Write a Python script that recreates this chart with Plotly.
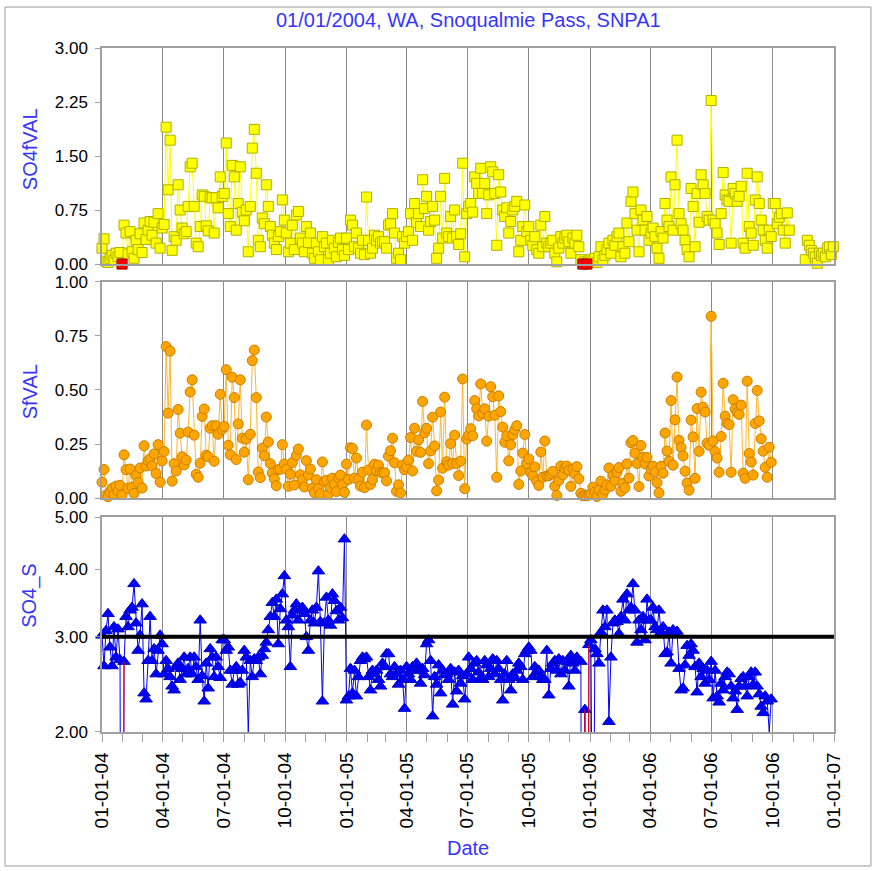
import pandas as pd
import plotly.graph_objects as go

# IMPROVE 1-in-3 day sampling schedule, Snoqualmie Pass (SNPA1)
START = "2004-01-01"
END = "2007-01-01"
sample_dates = pd.date_range(START, periods=366, freq="3D")

# Fine sulfate (ug/m3), one line per calendar quarter
so4f_val = [
    0.22, 0.35, 0.04, 0.02, 0.08, 0.12, 0.05, 0.15, 0.10, 0.16, 0.00, 0.54, 0.43, 0.14, 0.45, 0.17, 0.08, 0.33, 0.20, 0.42, 0.16, 0.57, 0.34, 0.47, 0.59, 0.40, 0.58, 0.29, 0.70, 0.22, 0.50,
    0.55, 1.90, 1.03, 1.72, 0.19, 0.38, 0.33, 1.10, 0.75, 0.50, 0.42, 0.45, 0.80, 1.35, 1.40, 0.80, 0.29, 0.24, 0.52, 0.96, 0.94, 0.53, 0.46, 0.92, 0.92, 0.43, 0.92, 0.78, 1.21, 0.94,
    0.98, 1.68, 0.70, 0.52, 1.37, 1.21, 0.47, 0.84, 1.35, 0.72, 0.60, 0.75, 0.17, 0.80, 1.61, 1.87, 1.26, 0.33, 0.24, 0.64, 0.56, 1.10, 0.80, 0.52, 0.40, 0.29, 0.20, 0.38, 0.45, 0.89, 0.61,
    0.43, 0.17, 0.29, 0.54, 0.20, 0.68, 0.73, 0.36, 0.29, 0.17, 0.52, 0.30, 0.43, 0.15, 0.08, 0.29, 0.17, 0.06, 0.38, 0.24, 0.29, 0.06, 0.15, 0.33, 0.22, 0.10, 0.30, 0.36, 0.20, 0.12,
    0.36, 0.20, 0.61, 0.54, 0.24, 0.43, 0.22, 0.15, 0.33, 0.13, 0.93, 0.33, 0.15, 0.22, 0.40, 0.33, 0.38, 0.29, 0.31, 0.31, 0.22, 0.54, 0.56, 0.70, 0.43, 0.08, 0.15, 0.06, 0.38, 0.29,
    0.38, 0.45, 0.70, 0.33, 0.84, 0.58, 0.70, 0.52, 1.17, 0.77, 0.94, 0.47, 0.59, 0.80, 0.61, 0.08, 0.22, 0.94, 0.36, 1.19, 0.43, 0.38, 0.66, 0.36, 0.75, 0.38, 0.27, 0.42, 1.40, 0.10, 0.70,
    0.80, 0.84, 0.72, 1.21, 1.12, 0.98, 1.33, 0.98, 1.12, 0.70, 0.96, 1.35, 1.28, 0.98, 0.26, 1.24, 1.00, 0.75, 0.66, 0.78, 0.43, 0.59, 0.75, 0.80, 0.87, 0.17, 0.33, 0.52, 0.82, 0.45,
    0.52, 0.33, 0.26, 0.38, 0.20, 0.15, 0.54, 0.24, 0.66, 0.29, 0.24, 0.29, 0.33, 0.15, 0.03, 0.22, 0.38, 0.29, 0.36, 0.40, 0.31, 0.15, 0.36, 0.29, 0.40, 0.24, 0.06, 0.00, 0.03, 0.00, 0.04,
    0.06, 0.04, 0.08, 0.02, 0.10, 0.24, 0.06, 0.12, 0.20, 0.29, 0.15, 0.33, 0.26, 0.38, 0.43, 0.10, 0.24, 0.15, 0.57, 0.31, 0.87, 1.00, 0.70, 0.47, 0.17, 0.75, 0.61, 0.47, 0.66, 0.33,
    0.43, 0.50, 0.38, 0.22, 0.08, 0.45, 0.36, 0.84, 0.61, 0.52, 1.21, 0.47, 1.10, 1.72, 0.70, 0.56, 0.47, 0.33, 0.20, 0.10, 1.05, 0.80, 0.24, 0.98, 0.58, 1.24, 1.10, 0.98, 0.66, 0.61,
    2.27, 0.61, 0.56, 0.43, 0.27, 0.70, 1.27, 0.96, 0.89, 0.87, 0.29, 1.05, 0.98, 0.87, 0.94, 1.08, 0.29, 0.22, 1.26, 0.52, 0.43, 0.26, 0.89, 1.21, 0.84, 0.61, 0.47, 0.33, 0.22, 0.47, 0.38,
    0.84, 0.84, 0.56, 0.65, 0.70, 0.47, 0.29, 0.71, 0.47, None, None, None, None, None, None, None, 0.06, 0.33, 0.26, 0.19, 0.15, 0.10, 0.01, 0.15, 0.12, 0.15, 0.10, 0.22, 0.24, 0.13, 0.24,
]

# Fine sulfur (ug/m3)
sf_val = [
    0.073, 0.132, 0.013, 0.006, 0.028, 0.045, 0.016, 0.055, 0.032, 0.059, 0.015, 0.200, 0.131, 0.045, 0.134, 0.050, 0.021, 0.104, 0.071, 0.139, 0.046, 0.242, 0.148, 0.173, 0.180, 0.148, 0.204, 0.113, 0.247, 0.073, 0.172,
    0.215, 0.701, 0.393, 0.680, 0.078, 0.159, 0.125, 0.410, 0.300, 0.191, 0.153, 0.176, 0.305, 0.491, 0.547, 0.291, 0.110, 0.096, 0.161, 0.378, 0.412, 0.198, 0.191, 0.323, 0.335, 0.170, 0.335, 0.295, 0.480, 0.318,
    0.331, 0.594, 0.244, 0.200, 0.559, 0.465, 0.178, 0.343, 0.547, 0.277, 0.212, 0.273, 0.085, 0.295, 0.636, 0.685, 0.465, 0.120, 0.094, 0.231, 0.196, 0.375, 0.259, 0.159, 0.115, 0.089, 0.057, 0.131, 0.133, 0.247, 0.157,
    0.134, 0.054, 0.110, 0.164, 0.060, 0.197, 0.227, 0.107, 0.085, 0.051, 0.173, 0.106, 0.134, 0.045, 0.025, 0.085, 0.043, 0.019, 0.167, 0.075, 0.082, 0.019, 0.048, 0.092, 0.063, 0.030, 0.093, 0.106, 0.062, 0.026,
    0.157, 0.086, 0.233, 0.229, 0.092, 0.185, 0.087, 0.055, 0.120, 0.048, 0.338, 0.130, 0.063, 0.085, 0.156, 0.127, 0.152, 0.119, 0.116, 0.117, 0.079, 0.194, 0.219, 0.277, 0.163, 0.031, 0.061, 0.023, 0.152, 0.131,
    0.144, 0.176, 0.280, 0.125, 0.323, 0.216, 0.269, 0.211, 0.447, 0.302, 0.323, 0.159, 0.218, 0.374, 0.241, 0.033, 0.083, 0.398, 0.138, 0.467, 0.168, 0.152, 0.252, 0.160, 0.291, 0.160, 0.104, 0.171, 0.551, 0.043, 0.273,
    0.291, 0.321, 0.288, 0.451, 0.413, 0.380, 0.528, 0.392, 0.413, 0.263, 0.379, 0.515, 0.469, 0.383, 0.096, 0.473, 0.400, 0.328, 0.258, 0.288, 0.172, 0.247, 0.293, 0.317, 0.335, 0.063, 0.125, 0.208, 0.294, 0.159,
    0.181, 0.117, 0.103, 0.144, 0.078, 0.058, 0.213, 0.096, 0.264, 0.102, 0.103, 0.111, 0.123, 0.055, 0.012, 0.081, 0.148, 0.107, 0.138, 0.148, 0.128, 0.054, 0.134, 0.112, 0.145, 0.089, 0.022, 0.010, 0.014, 0.010, 0.014,
    0.020, 0.050, 0.028, 0.007, 0.037, 0.078, 0.018, 0.038, 0.060, 0.139, 0.055, 0.104, 0.081, 0.119, 0.141, 0.031, 0.068, 0.047, 0.158, 0.092, 0.256, 0.266, 0.208, 0.160, 0.053, 0.243, 0.187, 0.159, 0.188, 0.102,
    0.134, 0.147, 0.121, 0.071, 0.024, 0.147, 0.115, 0.301, 0.217, 0.170, 0.451, 0.152, 0.362, 0.560, 0.267, 0.234, 0.195, 0.124, 0.069, 0.036, 0.361, 0.283, 0.091, 0.414, 0.216, 0.490, 0.420, 0.398, 0.254, 0.244,
    0.841, 0.264, 0.215, 0.185, 0.119, 0.285, 0.531, 0.379, 0.345, 0.340, 0.119, 0.455, 0.412, 0.395, 0.387, 0.430, 0.115, 0.091, 0.541, 0.206, 0.167, 0.106, 0.345, 0.498, 0.357, 0.274, 0.217, 0.142, 0.096, 0.235, 0.165,
]

# Sulfate / sulfur mass ratio (0.1 and 0.8 fall below the plotted scale)
so4_s = [
    3.02, 2.65, 3.08, 3.31, 2.87, 2.65, 3.13, 2.75, 3.10, 2.72, 0.1, 2.70, 3.27, 3.13, 3.36, 3.40, 3.76, 3.18, 2.83, 3.02, 3.45, 2.36, 2.30, 2.71, 3.27, 2.71, 2.85, 2.56, 2.83, 3.02, 2.91,
    2.56, 2.71, 2.62, 2.53, 2.43, 2.39, 2.64, 2.68, 2.50, 2.62, 2.75, 2.56, 2.62, 2.75, 2.56, 2.75, 2.64, 2.50, 3.22, 2.54, 2.28, 2.68, 2.41, 2.85, 2.75, 2.53, 2.75, 2.64, 2.52, 2.96,
    2.96, 2.83, 2.87, 2.60, 2.45, 2.60, 2.64, 2.45, 2.47, 2.60, 2.83, 2.75, 2.00, 2.71, 2.53, 2.73, 2.71, 2.75, 2.56, 2.77, 2.85, 2.93, 3.09, 3.27, 3.47, 3.27, 3.52, 2.91, 3.38, 3.60, 3.89,
    3.22, 3.13, 2.64, 3.29, 3.36, 3.45, 3.22, 3.36, 3.40, 3.31, 3.00, 2.83, 3.22, 3.36, 3.18, 3.40, 3.97, 3.20, 2.28, 3.18, 3.55, 3.22, 3.15, 3.60, 3.50, 3.35, 3.22, 3.40, 3.25, 4.55,
    2.29, 2.33, 2.62, 2.36, 2.60, 2.33, 2.53, 2.71, 2.75, 2.73, 2.75, 2.53, 2.39, 2.60, 2.56, 2.60, 2.50, 2.43, 2.68, 2.64, 2.79, 2.79, 2.56, 2.53, 2.64, 2.56, 2.45, 2.60, 2.50, 2.21,
    2.64, 2.56, 2.50, 2.64, 2.60, 2.68, 2.60, 2.46, 2.62, 2.55, 2.91, 2.96, 2.71, 2.14, 2.53, 2.45, 2.66, 2.36, 2.60, 2.55, 2.56, 2.50, 2.62, 2.25, 2.58, 2.38, 2.60, 2.46, 2.54, 2.30, 2.56,
    2.75, 2.62, 2.50, 2.68, 2.71, 2.58, 2.52, 2.50, 2.71, 2.66, 2.53, 2.62, 2.73, 2.56, 2.71, 2.62, 2.50, 2.29, 2.56, 2.71, 2.50, 2.39, 2.56, 2.52, 2.60, 2.68, 2.64, 2.50, 2.79, 2.83,
    2.87, 2.83, 2.53, 2.64, 2.58, 2.60, 2.53, 2.50, 2.50, 2.83, 2.34, 2.62, 2.68, 2.71, 2.60, 2.73, 2.56, 2.71, 2.60, 2.70, 2.43, 2.77, 2.68, 2.60, 2.75, 2.71, 2.70, 0.1, 2.20, 0.1, 2.90,
    2.96, 0.8, 2.85, 2.79, 2.68, 3.06, 3.36, 3.13, 3.36, 2.09, 2.75, 3.18, 3.22, 3.20, 3.04, 3.27, 3.52, 3.22, 3.60, 3.36, 3.40, 3.76, 3.36, 2.93, 3.22, 3.09, 3.27, 2.96, 3.52, 3.22,
    3.22, 3.40, 3.13, 3.09, 3.36, 3.06, 3.13, 2.79, 2.81, 3.06, 2.68, 3.09, 3.04, 3.07, 2.62, 2.39, 2.41, 2.66, 2.89, 2.77, 2.91, 2.83, 2.64, 2.37, 2.68, 2.53, 2.62, 2.46, 2.60, 2.50,
    2.70, 2.31, 2.60, 2.33, 2.27, 2.46, 2.39, 2.53, 2.58, 2.56, 2.43, 2.31, 2.38, 2.20, 2.43, 2.51, 2.53, 2.43, 2.33, 2.53, 2.58, 2.45, 2.58, 2.43, 2.35, 2.23, 2.17, 2.33, 2.28, 2.00, 2.30,
]

# Samples flagged as invalid
flagged_dates = ["2004-01-31", "2005-12-21", "2005-12-27"]

REFERENCE_RATIO = 3.0
so4f_ticks = [0, 0.75, 1.5, 2.25, 3.0]
sf_ticks = [0, 0.25, 0.5, 0.75, 1.0]
ratio_ticks = [2, 3, 4, 5]

BLUE_TEXT = "#3535FF"
FONT = "Liberation Sans, Arial, sans-serif"
FRAME = "#a0a0a0"
GRID = "#8a8a8a"

x_so4f = sample_dates[: len(so4f_val)]
x_sf = sample_dates[: len(sf_val)]
x_ratio = sample_dates[: len(so4_s)]
flag_idx = [sample_dates.get_loc(pd.Timestamp(d)) for d in flagged_dates]

fig = go.Figure()

fig.add_trace(go.Scatter(
    x=x_so4f, y=so4f_val, mode="lines+markers", xaxis="x", yaxis="y",
    line=dict(color="#FFFF00", width=1),
    marker=dict(symbol="square", size=10, color="#FFFF00", line=dict(color="#B0B000", width=1)),
    cliponaxis=False, showlegend=False,
))
fig.add_trace(go.Scatter(
    x=[x_so4f[i] for i in flag_idx], y=[so4f_val[i] for i in flag_idx],
    mode="markers", xaxis="x", yaxis="y",
    marker=dict(symbol="square", size=10, color="#FF0000", line=dict(color="#A00000", width=1)),
    cliponaxis=False, showlegend=False,
))

fig.add_trace(go.Scatter(
    x=x_sf, y=sf_val, mode="lines+markers", xaxis="x2", yaxis="y2",
    line=dict(color="#FFB52E", width=1),
    marker=dict(symbol="circle", size=10, color="#FFA500", line=dict(color="#C87F00", width=1)),
    cliponaxis=False, showlegend=False,
))

fig.add_trace(go.Scatter(
    x=x_ratio, y=so4_s, mode="lines+markers", xaxis="x3", yaxis="y3",
    line=dict(color="#0000FF", width=1),
    marker=dict(symbol="triangle-up", size=11, color="#0000FF", line=dict(color="#0000C0", width=1)),
    cliponaxis=False, showlegend=False,
))
# segments leaving each flagged sample are drawn in red
red_x, red_y = [], []
for i in flag_idx:
    red_x += [x_ratio[i], x_ratio[i + 1], None]
    red_y += [so4_s[i], so4_s[i + 1], None]
fig.add_trace(go.Scatter(
    x=red_x, y=red_y, mode="lines", xaxis="x3", yaxis="y3",
    line=dict(color="#FF0000", width=1), showlegend=False,
))

xcommon = dict(
    type="date", range=[START, END], dtick="M3", tick0=START,
    showgrid=True, gridcolor=GRID, gridwidth=1,
    showline=True, mirror=True, linecolor=FRAME, linewidth=1.5, zeroline=False,
)
ycommon = dict(
    showgrid=False, showline=True, mirror=True, linecolor=FRAME, linewidth=1.5,
    zeroline=False, ticks="outside", ticklen=5, tickcolor=FRAME, ticklabelstandoff=4,
    tickfont=dict(family=FONT, size=17, color="black"),
)

fig.update_layout(
    width=875, height=871,
    margin=dict(l=102, r=41, t=48, b=139),
    paper_bgcolor="white", plot_bgcolor="white",
    font=dict(family=FONT, size=19, color="black"),
    xaxis=dict(xcommon, anchor="y", matches="x3", showticklabels=False, ticks=""),
    xaxis2=dict(xcommon, anchor="y2", matches="x3", showticklabels=False, ticks=""),
    xaxis3=dict(
        xcommon, anchor="y3", tickformat="%m-%d-%y", tickangle=-90,
        ticks="outside", ticklen=8, tickcolor=FRAME, ticklabelstandoff=3,
        tickfont=dict(family=FONT, size=19, color="black"),
        minor=dict(dtick="M1", ticks="outside", ticklen=8, tickcolor=FRAME, showgrid=False),
    ),
    yaxis=dict(ycommon, domain=[0.6842, 1.0], range=[0, 3], tickvals=so4f_ticks, tickformat=".2f"),
    yaxis2=dict(ycommon, domain=[0.3421, 0.6579], range=[0, 1], tickvals=sf_ticks, tickformat=".2f"),
    yaxis3=dict(
        ycommon, domain=[0, 0.3143], type="log", range=[0.30103, 0.69897],
        tickvals=ratio_ticks, ticktext=[f"{v:.2f}" for v in ratio_ticks],
    ),
)

fig.add_shape(
    type="line", xref="x3 domain", x0=0, x1=1, yref="y3", y0=REFERENCE_RATIO, y1=REFERENCE_RATIO,
    line=dict(color="black", width=4),
)
# outer frame around the whole chart
fig.add_shape(
    type="rect", xref="paper", yref="paper", x0=-0.1325, x1=1.0505, y0=-0.1959, y1=1.0599,
    line=dict(color="#9a9a9a", width=1), layer="below",
)

def text(t, x, y, angle=0, size=20):
    fig.add_annotation(
        text=t, x=x, y=y, xref="paper", yref="paper", showarrow=False, textangle=angle,
        xanchor="center", yanchor="middle", font=dict(family=FONT, size=size, color=BLUE_TEXT),
    )

text("01/01/2004, WA, Snoqualmie Pass, SNPA1", 0.5, 1.0409)
text("SO4fVAL", -0.0984, 0.852, angle=-90)
text("SfVAL", -0.0984, 0.498, angle=-90)
text("SO4_S", -0.0984, 0.199, angle=-90)
text("Date", 0.5, -0.1696)

fig.write_html("out.html")
